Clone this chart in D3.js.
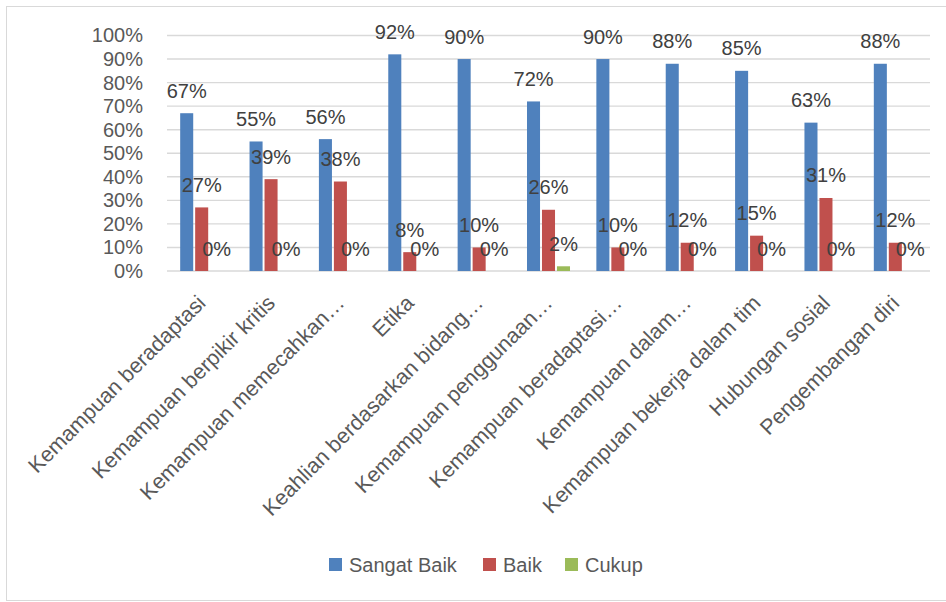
<!DOCTYPE html>
<html>
<head>
<meta charset="utf-8">
<script src="https://cdn.jsdelivr.net/npm/d3@7/dist/d3.min.js"></script>
<style>
  html, body { margin: 0; padding: 0; background: #fff; }
  svg { display: block; font-family: "Liberation Sans", Arial, sans-serif; }
</style>
</head>
<body>
<svg id="chart" width="946" height="602"></svg>
<script>
const categories = [
  "Kemampuan beradaptasi",
  "Kemampuan berpikir kritis",
  "Kemampuan memecahkan…",
  "Etika",
  "Keahlian berdasarkan bidang…",
  "Kemampuan penggunaan…",
  "Kemampuan beradaptasi…",
  "Kemampuan dalam…",
  "Kemampuan bekerja dalam tim",
  "Hubungan sosial",
  "Pengembangan diri"
];
const seriesNames = ["Sangat Baik", "Baik", "Cukup"];
const sangatBaik = [67, 55, 56, 92, 90, 72, 90, 88, 85, 63, 88];
const baik = [27, 39, 38, 8, 10, 26, 10, 12, 15, 31, 12];
const cukup = [0, 0, 0, 0, 0, 2, 0, 0, 0, 0, 0];
const yTicks = [0, 10, 20, 30, 40, 50, 60, 70, 80, 90, 100];
const colors = ["#4f81bd", "#c0504d", "#9bbb59"];

const seriesValues = [sangatBaik, baik, cukup];
const svg = d3.select("#chart");

// outer chart border
svg.append("rect")
  .attr("x", 6.5).attr("y", 6.5)
  .attr("width", 960).attr("height", 594)
  .attr("fill", "none").attr("stroke", "#d9d9d9").attr("stroke-width", 1);

const plot = { left: 167, right: 930, top: 35.5, bottom: 271 };

const y = d3.scaleLinear().domain([0, 100]).range([plot.bottom, plot.top]);
const x0 = d3.scaleBand().domain(categories).range([plot.left, plot.right])
  .paddingInner(0.38).paddingOuter(0.19);
const x1 = d3.scaleBand().domain(seriesNames).range([0, x0.bandwidth()])
  .paddingInner(0.13).paddingOuter(0);

// gridlines
svg.append("g")
  .selectAll("line")
  .data(yTicks)
  .join("line")
  .attr("x1", plot.left).attr("x2", plot.right)
  .attr("y1", d => y(d)).attr("y2", d => y(d))
  .attr("stroke", "#d9d9d9").attr("stroke-width", 1.4);

// y axis labels
const yAxis = d3.axisLeft(y).tickValues(yTicks).tickFormat(d => d + "%").tickSize(0).tickPadding(0);
const gy = svg.append("g").attr("transform", `translate(143,0)`).call(yAxis);
gy.select(".domain").remove();
gy.selectAll("text")
  .attr("font-family", '"Liberation Sans", Arial, sans-serif')
  .attr("font-size", 20).attr("fill", "#595959");

// bars
const groups = svg.append("g")
  .selectAll("g")
  .data(categories)
  .join("g")
  .attr("transform", d => `translate(${x0(d)},0)`);

const cellData = (c, i) => seriesNames.map((s, k) => ({ s, k, v: seriesValues[k][i] }));

groups.selectAll("rect")
  .data((c, i) => cellData(c, i))
  .join("rect")
  .attr("x", d => x1(d.s))
  .attr("width", x1.bandwidth())
  .attr("y", d => y(d.v))
  .attr("height", d => y(0) - y(d.v))
  .attr("fill", d => colors[d.k]);

// value labels
groups.selectAll("text")
  .data((c, i) => cellData(c, i))
  .join("text")
  .attr("x", d => x1(d.s) + x1.bandwidth() / 2)
  .attr("y", d => y(d.v) - 22.5)
  .attr("dy", "0.35em")
  .attr("text-anchor", "middle")
  .attr("font-size", 20)
  .attr("fill", "#404040")
  .text(d => d.v + "%");

// x axis labels (rotated)
const xAxis = d3.axisBottom(x0).tickSize(0).tickPadding(0);
const gx = svg.append("g").attr("transform", `translate(0,${plot.bottom})`).call(xAxis);
gx.select(".domain").remove();
gx.selectAll(".tick text")
  .attr("font-family", '"Liberation Sans", Arial, sans-serif')
  .attr("font-size", 21.5).attr("fill", "#595959")
  .attr("text-anchor", "end")
  .attr("y", 0).attr("dy", "0.35em")
  .attr("transform", "translate(0,28) rotate(-45)");

// legend
const legendItems = [
  { name: seriesNames[0], color: colors[0], x: 329 },
  { name: seriesNames[1], color: colors[1], x: 483 },
  { name: seriesNames[2], color: colors[2], x: 565 }
];
const lg = svg.append("g");
legendItems.forEach(it => {
  lg.append("rect").attr("x", it.x).attr("y", 558).attr("width", 13).attr("height", 13).attr("fill", it.color);
  lg.append("text").attr("x", it.x + 20).attr("y", 565).attr("dy", "0.35em")
    .attr("font-size", 20).attr("fill", "#595959").text(it.name);
});
</script>
</body>
</html>
